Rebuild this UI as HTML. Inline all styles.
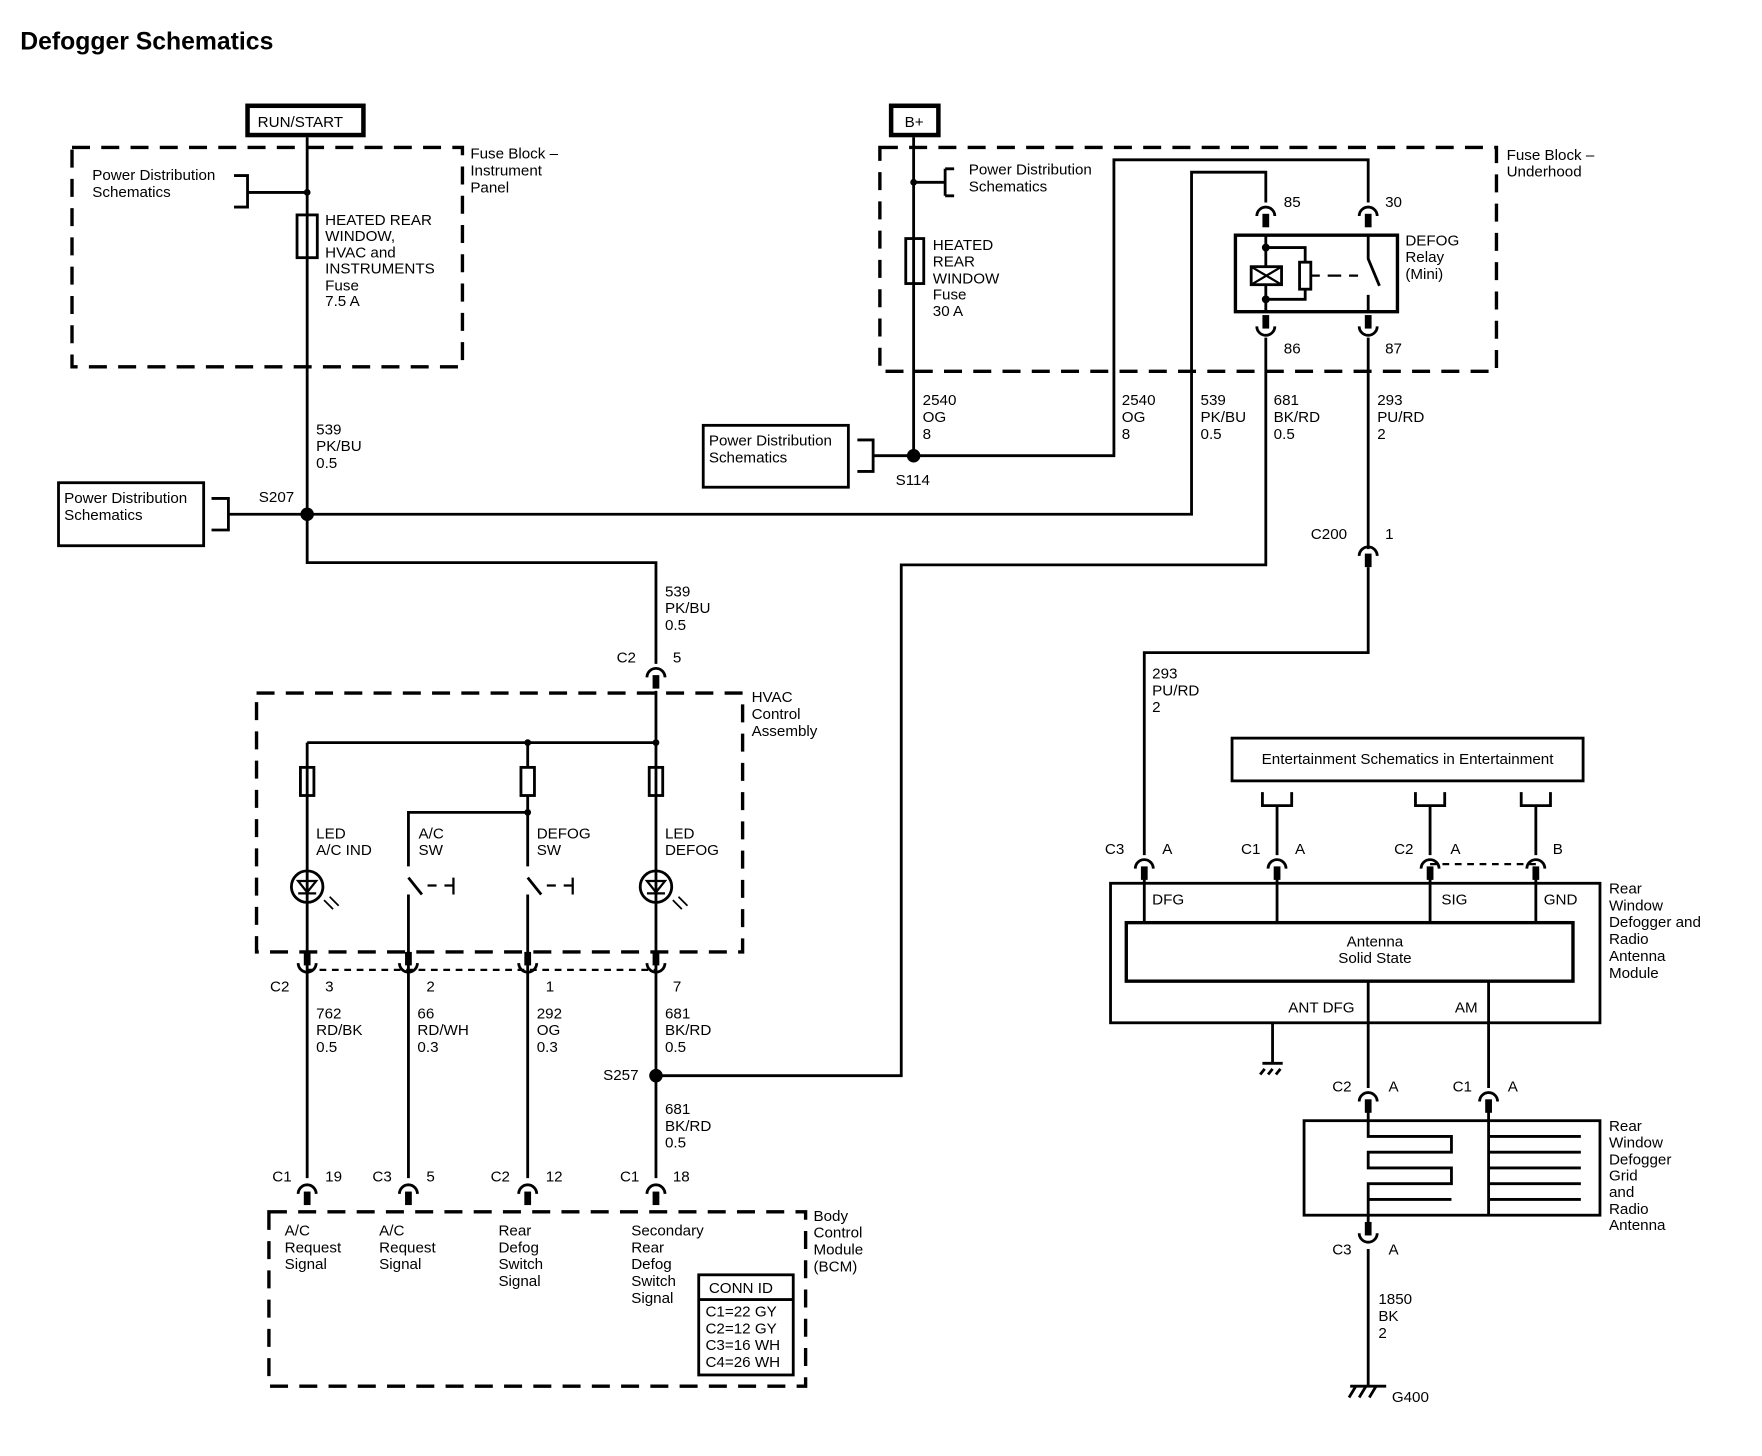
<!DOCTYPE html>
<html><head><meta charset="utf-8"><style>
html,body{margin:0;padding:0;background:#fff;}
svg{display:block;}
text{font-family:"Liberation Sans",sans-serif;font-size:13.5px;fill:#000;}
.b{font-weight:bold;}
</style></head><body>
<svg width="1762" height="1456" viewBox="0 0 1566 1294" xmlns="http://www.w3.org/2000/svg">
<defs>
<g id="cd"><path d="M-8 6 A8 8 0 0 1 8 6" fill="none" stroke="#000" stroke-width="2.5"/><rect x="-3" y="4" width="6" height="12" fill="#000"/></g>
<g id="cu"><path d="M-8 -6 A8 8 0 0 0 8 -6" fill="none" stroke="#000" stroke-width="2.5"/><rect x="-3" y="-16" width="6" height="12" fill="#000"/></g>
</defs>
<text x="18" y="44" class="b" style="font-size:22px">Defogger Schematics</text>

<g fill="none" stroke="#000" stroke-width="2.5">
<rect x="64" y="131" width="347" height="195" stroke-dasharray="16,10" stroke-width="3"/>
<rect x="220" y="94" width="103" height="26" stroke-width="4"/>
<path d="M273 122V500H583V590"/>
<path d="M208 156H220V184H208M220 171H273"/>
<rect x="264" y="191" width="18" height="38"/>
<path d="M188 443H203V471H188M203 457H1059V153H1125V180"/>
<rect x="52" y="429" width="129" height="56"/>
<rect x="782" y="131" width="548" height="199" stroke-dasharray="16,10" stroke-width="3"/>
<rect x="792" y="94" width="42" height="26" stroke-width="4"/>
<path d="M812 122V405H990V142H1216V180"/>
<path d="M812 162H840M840 150V174M840 150h8M840 174h8" />
<rect x="805" y="212" width="16" height="40"/>
<rect x="625" y="378" width="129" height="55"/>
<path d="M762 391H776V419H762M776 405H812"/>
<rect x="1098" y="209" width="144" height="68" stroke-width="3"/>
<path d="M1125 209V277M1125 220H1160V233M1160 257V266H1125"/>
<rect x="1155" y="233" width="10" height="24"/>
<path d="M1165 245H1173M1180 245H1192M1199 245H1207" stroke-width="2"/>
<path d="M1216 209V230L1226 254M1216 262V277"/>
<path d="M1125 300V502H801V956H583"/>
<path d="M1216 300V488M1216 504V580H1017V760"/>
<rect x="228" y="616" width="432" height="230" stroke-dasharray="16,10" stroke-width="3"/>
<path d="M583 614V1047M273 660H583M273 660V1047M469 660V682M469 707V722H363V770M469 722V770"/>
<rect x="267" y="682" width="12" height="25"/><rect x="463" y="682" width="12" height="25"/><rect x="577" y="682" width="12" height="25"/>
<path d="M363 795V1047M469 795V1047"/>
<path d="M363 780L375 795M469 780L481 795"/>
<path d="M380 787H388M395 787H403M403 780V795M486 787H494M501 787H509M509 780V795" stroke-width="2"/>
<circle cx="273" cy="788" r="14"/><circle cx="583" cy="788" r="14"/>
<path d="M265 783H281L273 793ZM265 794H281M575 783H591L583 793ZM575 794H591" stroke-width="2"/>
<path d="M288 800l8 8M293 797l8 8M598 800l8 8M603 797l8 8" stroke-width="1.5"/>
<path d="M273 862H583" stroke-dasharray="6,5" stroke-width="2"/>
<rect x="239" y="1077" width="477" height="155" stroke-dasharray="16,10" stroke-width="3"/>
<rect x="621" y="1133" width="84" height="89"/>
<path d="M621 1155H705"/>
<rect x="1095" y="656" width="312" height="38"/>
<path d="M1122 704V716H1148V704M1135 716V760M1258 704V716H1284V704M1271 716V760M1352 704V716H1378V704M1365 716V760"/>
<path d="M1271 768H1365" stroke-dasharray="6,5" stroke-width="2"/>
<rect x="987" y="785" width="435" height="124"/>
<rect x="1001" y="820" width="397" height="52" stroke-width="3"/>
<path d="M1017 776V820M1135 776V820M1271 776V820M1365 776V820"/>
<path d="M1216 872V967M1323 872V967M1131 909V945M1122 945H1140M1124 950l-4 5M1131 950l-4 5M1138 950l-4 5"/>
<rect x="1159" y="996" width="263" height="84"/>
<path d="M1216 983V1010H1290V1024H1216V1038H1290V1052H1216V1066H1290V1066M1216 1066V1094"/>
<path d="M1323 983V1080M1323 1010H1405M1323 1024H1405M1323 1038H1405M1323 1052H1405M1323 1066H1405"/>
<path d="M1216 1110V1232M1200 1232H1232M1205 1232l-6 10M1214 1232l-6 10M1223 1232l-6 10"/>
</g>
<g fill="#000">
<circle cx="273" cy="171" r="3"/><circle cx="273" cy="457" r="6"/><circle cx="812" cy="162" r="3"/><circle cx="812" cy="405" r="6"/>
<circle cx="1125" cy="220" r="3.5"/><circle cx="1125" cy="266" r="3.5"/>
<circle cx="583" cy="660" r="3"/><circle cx="469" cy="660" r="3"/><circle cx="469" cy="722" r="3"/><circle cx="583" cy="956" r="6"/>
</g>
<rect x="1112" y="237" width="27" height="16" fill="#fff" stroke="#000" stroke-width="2.5"/>
<path d="M1112 237L1139 253M1139 237L1112 253" stroke="#000" stroke-width="2"/>
<use href="#cd" x="1125" y="186"/><use href="#cd" x="1216" y="186"/>
<use href="#cu" x="1125" y="296"/><use href="#cu" x="1216" y="296"/>
<use href="#cd" x="1216" y="488"/><use href="#cd" x="583" y="596"/>
<use href="#cu" x="273" y="862"/><use href="#cu" x="363" y="862"/><use href="#cu" x="469" y="862"/><use href="#cu" x="583" y="862"/>
<use href="#cd" x="273" y="1055"/><use href="#cd" x="363" y="1055"/><use href="#cd" x="469" y="1055"/><use href="#cd" x="583" y="1055"/>
<use href="#cd" x="1017" y="766"/><use href="#cd" x="1135" y="766"/><use href="#cd" x="1271" y="766"/><use href="#cd" x="1365" y="766"/>
<use href="#cd" x="1216" y="973"/><use href="#cd" x="1323" y="973"/>
<use href="#cu" x="1216" y="1102"/>

<text x="229" y="113">RUN/START</text>
<text x="804" y="113">B+</text>
<text x="418" y="141">Fuse Block –</text><text x="418" y="156">Instrument</text><text x="418" y="171">Panel</text>
<text x="82" y="160">Power Distribution</text><text x="82" y="175">Schematics</text>
<text x="289" y="200">HEATED REAR</text><text x="289" y="214">WINDOW,</text><text x="289" y="229">HVAC and</text><text x="289" y="243">INSTRUMENTS</text><text x="289" y="258">Fuse</text><text x="289" y="272">7.5 A</text>
<text x="281" y="386">539</text><text x="281" y="401">PK/BU</text><text x="281" y="416">0.5</text>
<text x="230" y="446">S207</text>
<text x="57" y="447">Power Distribution</text><text x="57" y="462">Schematics</text>
<text x="1339" y="142">Fuse Block –</text><text x="1339" y="157">Underhood</text>
<text x="861" y="155">Power Distribution</text><text x="861" y="170">Schematics</text>
<text x="829" y="222">HEATED</text><text x="829" y="237">REAR</text><text x="829" y="252">WINDOW</text><text x="829" y="266">Fuse</text><text x="829" y="281">30 A</text>
<text x="1141" y="184">85</text><text x="1231" y="184">30</text><text x="1141" y="314">86</text><text x="1231" y="314">87</text>
<text x="1249" y="218">DEFOG</text><text x="1249" y="233">Relay</text><text x="1249" y="248">(Mini)</text>
<text x="820" y="360">2540</text><text x="820" y="375">OG</text><text x="820" y="390">8</text>
<text x="997" y="360">2540</text><text x="997" y="375">OG</text><text x="997" y="390">8</text>
<text x="1067" y="360">539</text><text x="1067" y="375">PK/BU</text><text x="1067" y="390">0.5</text>
<text x="1132" y="360">681</text><text x="1132" y="375">BK/RD</text><text x="1132" y="390">0.5</text>
<text x="1224" y="360">293</text><text x="1224" y="375">PU/RD</text><text x="1224" y="390">2</text>
<text x="630" y="396">Power Distribution</text><text x="630" y="411">Schematics</text>
<text x="796" y="431">S114</text>
<text x="1165" y="479">C200</text><text x="1231" y="479">1</text>
<text x="591" y="530">539</text><text x="591" y="545">PK/BU</text><text x="591" y="560">0.5</text>
<text x="548" y="589">C2</text><text x="598" y="589">5</text>
<text x="668" y="624">HVAC</text><text x="668" y="639">Control</text><text x="668" y="654">Assembly</text>
<text x="281" y="745">LED</text><text x="281" y="760">A/C IND</text>
<text x="372" y="745">A/C</text><text x="372" y="760">SW</text>
<text x="477" y="745">DEFOG</text><text x="477" y="760">SW</text>
<text x="591" y="745">LED</text><text x="591" y="760">DEFOG</text>
<text x="240" y="881">C2</text><text x="289" y="881">3</text><text x="379" y="881">2</text><text x="485" y="881">1</text><text x="598" y="881">7</text>
<text x="281" y="905">762</text><text x="281" y="920">RD/BK</text><text x="281" y="935">0.5</text>
<text x="371" y="905">66</text><text x="371" y="920">RD/WH</text><text x="371" y="935">0.3</text>
<text x="477" y="905">292</text><text x="477" y="920">OG</text><text x="477" y="935">0.3</text>
<text x="591" y="905">681</text><text x="591" y="920">BK/RD</text><text x="591" y="935">0.5</text>
<text x="536" y="960">S257</text>
<text x="591" y="990">681</text><text x="591" y="1005">BK/RD</text><text x="591" y="1020">0.5</text>
<text x="242" y="1050">C1</text><text x="289" y="1050">19</text><text x="331" y="1050">C3</text><text x="379" y="1050">5</text>
<text x="436" y="1050">C2</text><text x="485" y="1050">12</text><text x="551" y="1050">C1</text><text x="598" y="1050">18</text>
<text x="723" y="1085">Body</text><text x="723" y="1100">Control</text><text x="723" y="1115">Module</text><text x="723" y="1130">(BCM)</text>
<text x="253" y="1098">A/C</text><text x="253" y="1113">Request</text><text x="253" y="1128">Signal</text>
<text x="337" y="1098">A/C</text><text x="337" y="1113">Request</text><text x="337" y="1128">Signal</text>
<text x="443" y="1098">Rear</text><text x="443" y="1113">Defog</text><text x="443" y="1128">Switch</text><text x="443" y="1143">Signal</text>
<text x="561" y="1098">Secondary</text><text x="561" y="1113">Rear</text><text x="561" y="1128">Defog</text><text x="561" y="1143">Switch</text><text x="561" y="1158">Signal</text>
<text x="630" y="1149">CONN ID</text>
<text x="627" y="1170">C1=22 GY</text><text x="627" y="1185">C2=12 GY</text><text x="627" y="1200">C3=16 WH</text><text x="627" y="1215">C4=26 WH</text>
<text x="1024" y="603">293</text><text x="1024" y="618">PU/RD</text><text x="1024" y="633">2</text>
<text x="1251" y="679" text-anchor="middle">Entertainment Schematics in Entertainment</text>
<text x="982" y="759">C3</text><text x="1033" y="759">A</text><text x="1103" y="759">C1</text><text x="1151" y="759">A</text>
<text x="1239" y="759">C2</text><text x="1289" y="759">A</text><text x="1380" y="759">B</text>
<text x="1024" y="804">DFG</text><text x="1281" y="804">SIG</text><text x="1372" y="804">GND</text>
<text x="1222" y="841" text-anchor="middle">Antenna</text><text x="1222" y="856" text-anchor="middle">Solid State</text>
<text x="1145" y="900">ANT DFG</text><text x="1293" y="900">AM</text>
<text x="1430" y="794">Rear</text><text x="1430" y="809">Window</text><text x="1430" y="824">Defogger and</text><text x="1430" y="839">Radio</text><text x="1430" y="854">Antenna</text><text x="1430" y="869">Module</text>
<text x="1184" y="970">C2</text><text x="1234" y="970">A</text><text x="1291" y="970">C1</text><text x="1340" y="970">A</text>
<text x="1430" y="1005">Rear</text><text x="1430" y="1020">Window</text><text x="1430" y="1035">Defogger</text><text x="1430" y="1049">Grid</text><text x="1430" y="1064">and</text><text x="1430" y="1079">Radio</text><text x="1430" y="1093">Antenna</text>
<text x="1184" y="1115">C3</text><text x="1234" y="1115">A</text>
<text x="1225" y="1159">1850</text><text x="1225" y="1174">BK</text><text x="1225" y="1189">2</text>
<text x="1237" y="1246">G400</text>
</svg>
</body></html>
